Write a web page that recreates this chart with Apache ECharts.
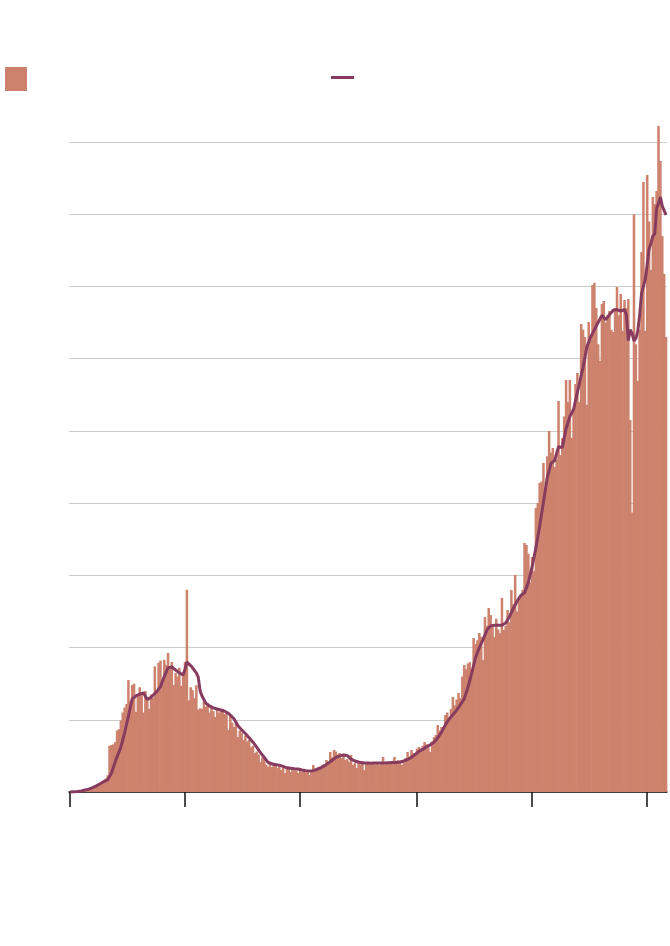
<!DOCTYPE html>
<html>
<head>
<meta charset="utf-8">
<style>
  html, body { margin: 0; padding: 0; background: #ffffff; }
  #chart { width: 670px; height: 946px; }
</style>
<script src="https://cdn.jsdelivr.net/npm/echarts@6/dist/echarts.min.js"></script>
</head>
<body>
<div id="chart"></div>
<script>
// Daily values, 1 Mar 2020 – 11 Jan 2021 (317 days)
const startDate = '2020-03-01';
const dayCount = 317;

const dailyValues = [
  0,1,2,4,6,8,12,15,20,28,
  35,45,60,75,90,105,120,140,160,185,
  230,640,650,660,690,850,870,990,1100,1170,
  1220,1550,1260,1480,1500,1110,1340,1450,1380,1100,
  1400,1280,1150,1350,1300,1740,1380,1790,1820,1540,
  1830,1760,1925,1700,1800,1480,1650,1600,1720,1470,
  1650,1800,2800,1270,1450,1410,1300,1480,1140,1160,
  1150,1250,1180,1230,1100,1200,1120,1040,1160,1100,
  1130,1150,1080,1100,860,1050,960,900,980,760,
  850,820,720,780,700,720,620,640,540,560,
  520,415,480,460,380,350,420,346,380,400,
  330,360,305,340,263,320,350,277,330,300,
  300,263,330,277,300,270,290,235,300,374,
  290,320,350,330,380,360,443,400,554,480,
  582,560,520,540,470,500,443,460,420,512,
  374,400,332,420,380,430,305,400,420,380,
  400,400,380,400,370,400,485,380,420,400,
  390,430,485,420,440,410,374,440,470,554,
  490,582,540,520,600,623,600,640,692,660,
  620,554,700,760,790,928,850,900,870,1066,
  1100,1000,1150,1315,1200,1280,1371,1300,1600,1758,
  1700,1780,1800,1650,2132,2050,2100,2201,2150,1828,
  2423,2300,2548,2450,2300,2146,2400,2250,2200,2686,
  2243,2300,2520,2350,2797,2600,3005,2500,2650,2700,
  2800,3448,3420,3300,2900,3254,3060,3932,4000,4278,
  4300,4555,4200,4650,5000,4700,4763,4500,4600,5414,
  4666,4900,5200,5704,5400,5704,4901,5300,5650,5800,
  5400,6480,6400,6300,5360,6508,6300,7020,7050,6700,
  6200,5968,6757,6800,6500,6600,6660,6400,6370,6700,
  6992,6600,6895,6383,6812,6700,6826,5150,3870,8000,
  6200,5690,6400,7477,8446,6383,8543,7900,7228,8238,
  8141,8320,9221,8737,7698,7172,6300
];

const averageValues = [
  0,2,4,6,8,10,15,20,28,35,
  40,50,60,72,85,100,115,130,145,158,
  170,215,260,340,420,490,555,620,720,820,
  935,1050,1170,1290,1310,1330,1345,1355,1365,1370,
  1325,1280,1295,1310,1340,1365,1390,1425,1460,1530,
  1600,1660,1720,1725,1730,1710,1690,1670,1650,1635,
  1620,1700,1800,1780,1750,1720,1685,1650,1590,1400,
  1330,1280,1230,1210,1190,1178,1165,1158,1150,1142,
  1135,1127,1118,1110,1090,1070,1040,1010,965,920,
  890,860,835,810,780,750,720,690,655,620,
  583,545,512,480,445,410,400,390,384,378,
  375,372,363,355,345,335,332,330,326,322,
  320,318,311,305,300,295,292,290,292,295,
  305,315,325,335,350,365,383,400,420,440,
  460,480,490,500,506,512,512,506,500,455,
  442,430,422,415,408,402,401,400,399,398,
  399,400,401,402,401,400,400,400,402,405,
  406,408,409,410,412,415,422,430,440,450,
  465,480,500,520,540,560,575,590,608,625,
  640,655,672,690,720,750,790,830,880,930,
  970,1010,1040,1070,1100,1135,1172,1210,1250,1290,
  1370,1450,1550,1650,1755,1860,1930,2000,2055,2110,
  2175,2240,2270,2300,2305,2310,2310,2310,2310,2310,
  2325,2340,2385,2430,2485,2540,2590,2640,2680,2720,
  2740,2760,2830,2900,3010,3120,3250,3380,3530,3680,
  3845,4010,4180,4350,4450,4550,4570,4590,4690,4780,
  4775,4770,4900,5030,5115,5200,5180,5300,5420,5535,
  5650,5765,5880,6020,6160,6230,6300,6350,6400,6450,
  6500,6550,6600,6570,6540,6575,6610,6640,6670,6675,
  6680,6670,6660,6670,6680,6600,6250,6400,6350,6245,
  6280,6380,6600,6900,7000,7100,7300,7518,7600,7698,
  7726,8086,8150,8238,8114,8050,7989
];

// Months (0-based: Jan=0) whose first day carries an axis tick
const tickMonths = [0, 2, 4, 6, 8, 10]; // Jan, Mar, May, Jul, Sep, Nov
const yTickValues = [0, 1000, 2000, 3000, 4000, 5000, 6000, 7000, 8000, 9000];

const categories = [];
(function buildDates() {
  const d0 = new Date(startDate + 'T00:00:00Z');
  for (let i = 0; i < dayCount; i++) {
    const d = new Date(d0.getTime() + i * 86400000);
    categories.push(d.toISOString().slice(0, 10));
  }
})();

const barColor = '#cd826d';
const lineColor = '#873c5f';

const chart = echarts.init(document.getElementById('chart'), null, { renderer: 'canvas' });

chart.setOption({
  animation: false,
  backgroundColor: '#ffffff',
  legend: [
    {
      left: 5, top: 67, padding: 0,
      itemWidth: 22, itemHeight: 24,
      icon: 'rect',
      data: ['Daily cases'],
      formatter: () => '',
      selectedMode: false,
      itemGap: 0
    },
    {
      left: 331, top: 76, padding: 0,
      itemWidth: 23, itemHeight: 3,
      icon: 'rect',
      data: ['7-day average'],
      formatter: () => '',
      selectedMode: false,
      itemGap: 0
    }
  ],
  grid: { left: 69, right: 3, top: 142, bottom: 154, containLabel: false },
  xAxis: {
    type: 'category',
    data: categories,
    boundaryGap: true,
    axisLine: { show: true, lineStyle: { color: '#111', width: 1.5 } },
    axisTick: {
      show: true,
      alignWithLabel: true,
      length: 15,
      lineStyle: { color: '#111', width: 1.5 },
      interval: (idx, val) => {
        const d = new Date(val + 'T00:00:00Z');
        return d.getUTCDate() === 1 && tickMonths.indexOf(d.getUTCMonth()) >= 0;
      }
    },
    axisLabel: { show: false },
    splitLine: { show: false }
  },
  yAxis: {
    type: 'value',
    min: yTickValues[0],
    max: yTickValues[yTickValues.length - 1],
    interval: yTickValues[1] - yTickValues[0],
    axisLine: { show: false },
    axisTick: { show: false },
    axisLabel: { show: false },
    splitLine: { show: true, lineStyle: { color: '#cccccc', width: 1 } }
  },
  series: [
    {
      name: 'Daily cases',
      type: 'bar',
      data: dailyValues,
      barWidth: '135%',
      barGap: '-100%',
      clip: false,
      itemStyle: { color: barColor },
      emphasis: { disabled: true }
    },
    {
      name: '7-day average',
      type: 'line',
      data: averageValues,
      showSymbol: false,
      symbol: 'none',
      smooth: false,
      clip: false,
      lineStyle: { color: lineColor, width: 3 },
      itemStyle: { color: lineColor },
      emphasis: { disabled: true },
      z: 3
    }
  ]
});
</script>
</body>
</html>
